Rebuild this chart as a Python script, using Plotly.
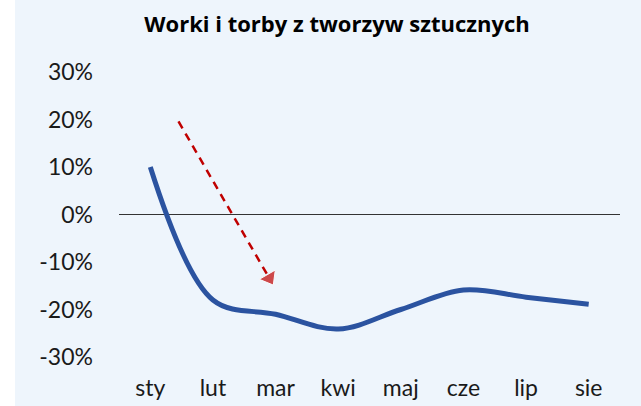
import plotly.graph_objects as go

months = ["sty", "lut", "mar", "kwi", "maj", "cze", "lip", "sie"]
values = [10.0, -18.0, -21.0, -24.1, -20.0, -15.9, -17.4, -18.9]
y_ticks = [-30, -20, -10, 0, 10, 20, 30]
y_tick_text = [f"{v}%" for v in y_ticks]

# trend arrow (data space: month index, percent)
arrow_x = [0.45, 1.90]
arrow_y = [19.6, -13.4]

BG = "#EEF5FC"
FONT = "Lato, 'Open Sans', sans-serif"

x_idx = list(range(len(months)))

fig = go.Figure()
fig.add_trace(go.Scatter(
    x=x_idx, y=values, mode="lines",
    line=dict(color="#2B53A0", width=5, shape="spline", smoothing=1.0),
    hoverinfo="skip", showlegend=False,
))
fig.add_trace(go.Scatter(
    x=arrow_x, y=arrow_y, mode="lines+markers",
    line=dict(color="#C00000", width=2.5, dash="8px,6px"),
    marker=dict(symbol=["circle", "triangle-up"], size=[0, 16],
                angleref="previous", color="#C00000"),
    hoverinfo="skip", showlegend=False,
))

fig.update_layout(
    width=641, height=406,
    margin=dict(l=119, r=21, t=72, b=49),
    paper_bgcolor=BG, plot_bgcolor=BG,
    font=dict(family=FONT, color="#1a1a1a"),
    title=dict(text="<b>Worki i torby z tworzyw sztucznych</b>",
               x=337/641, xref="container", xanchor="center",
               y=1-24/406, yanchor="middle",
               font=dict(size=22, family="'Open Sans', Lato, sans-serif", color="#000000")),
    xaxis=dict(range=[-0.5, 7.5], tickvals=x_idx, ticktext=months,
               showgrid=False, zeroline=False, showline=False, ticks="",
               tickfont=dict(size=23), ticklabelstandoff=15, fixedrange=True,
               automargin=False),
    yaxis=dict(range=[-30, 30], tickvals=y_ticks, ticktext=y_tick_text,
               showgrid=False, zeroline=True, zerolinecolor="#333333", zerolinewidth=1,
               showline=False, ticks="", tickfont=dict(size=23),
               ticklabelstandoff=25, fixedrange=True, automargin=False),
    shapes=[dict(type="rect", xref="paper", yref="paper",
                 x0=-119/501, x1=(15-119)/501, y0=-1, y1=2,
                 fillcolor="white", line=dict(width=0), layer="below")],
)

fig.write_html("out.html", config={"displayModeBar": False},
               post_script="document.body.style.margin='0';document.body.style.overflow='hidden';")
